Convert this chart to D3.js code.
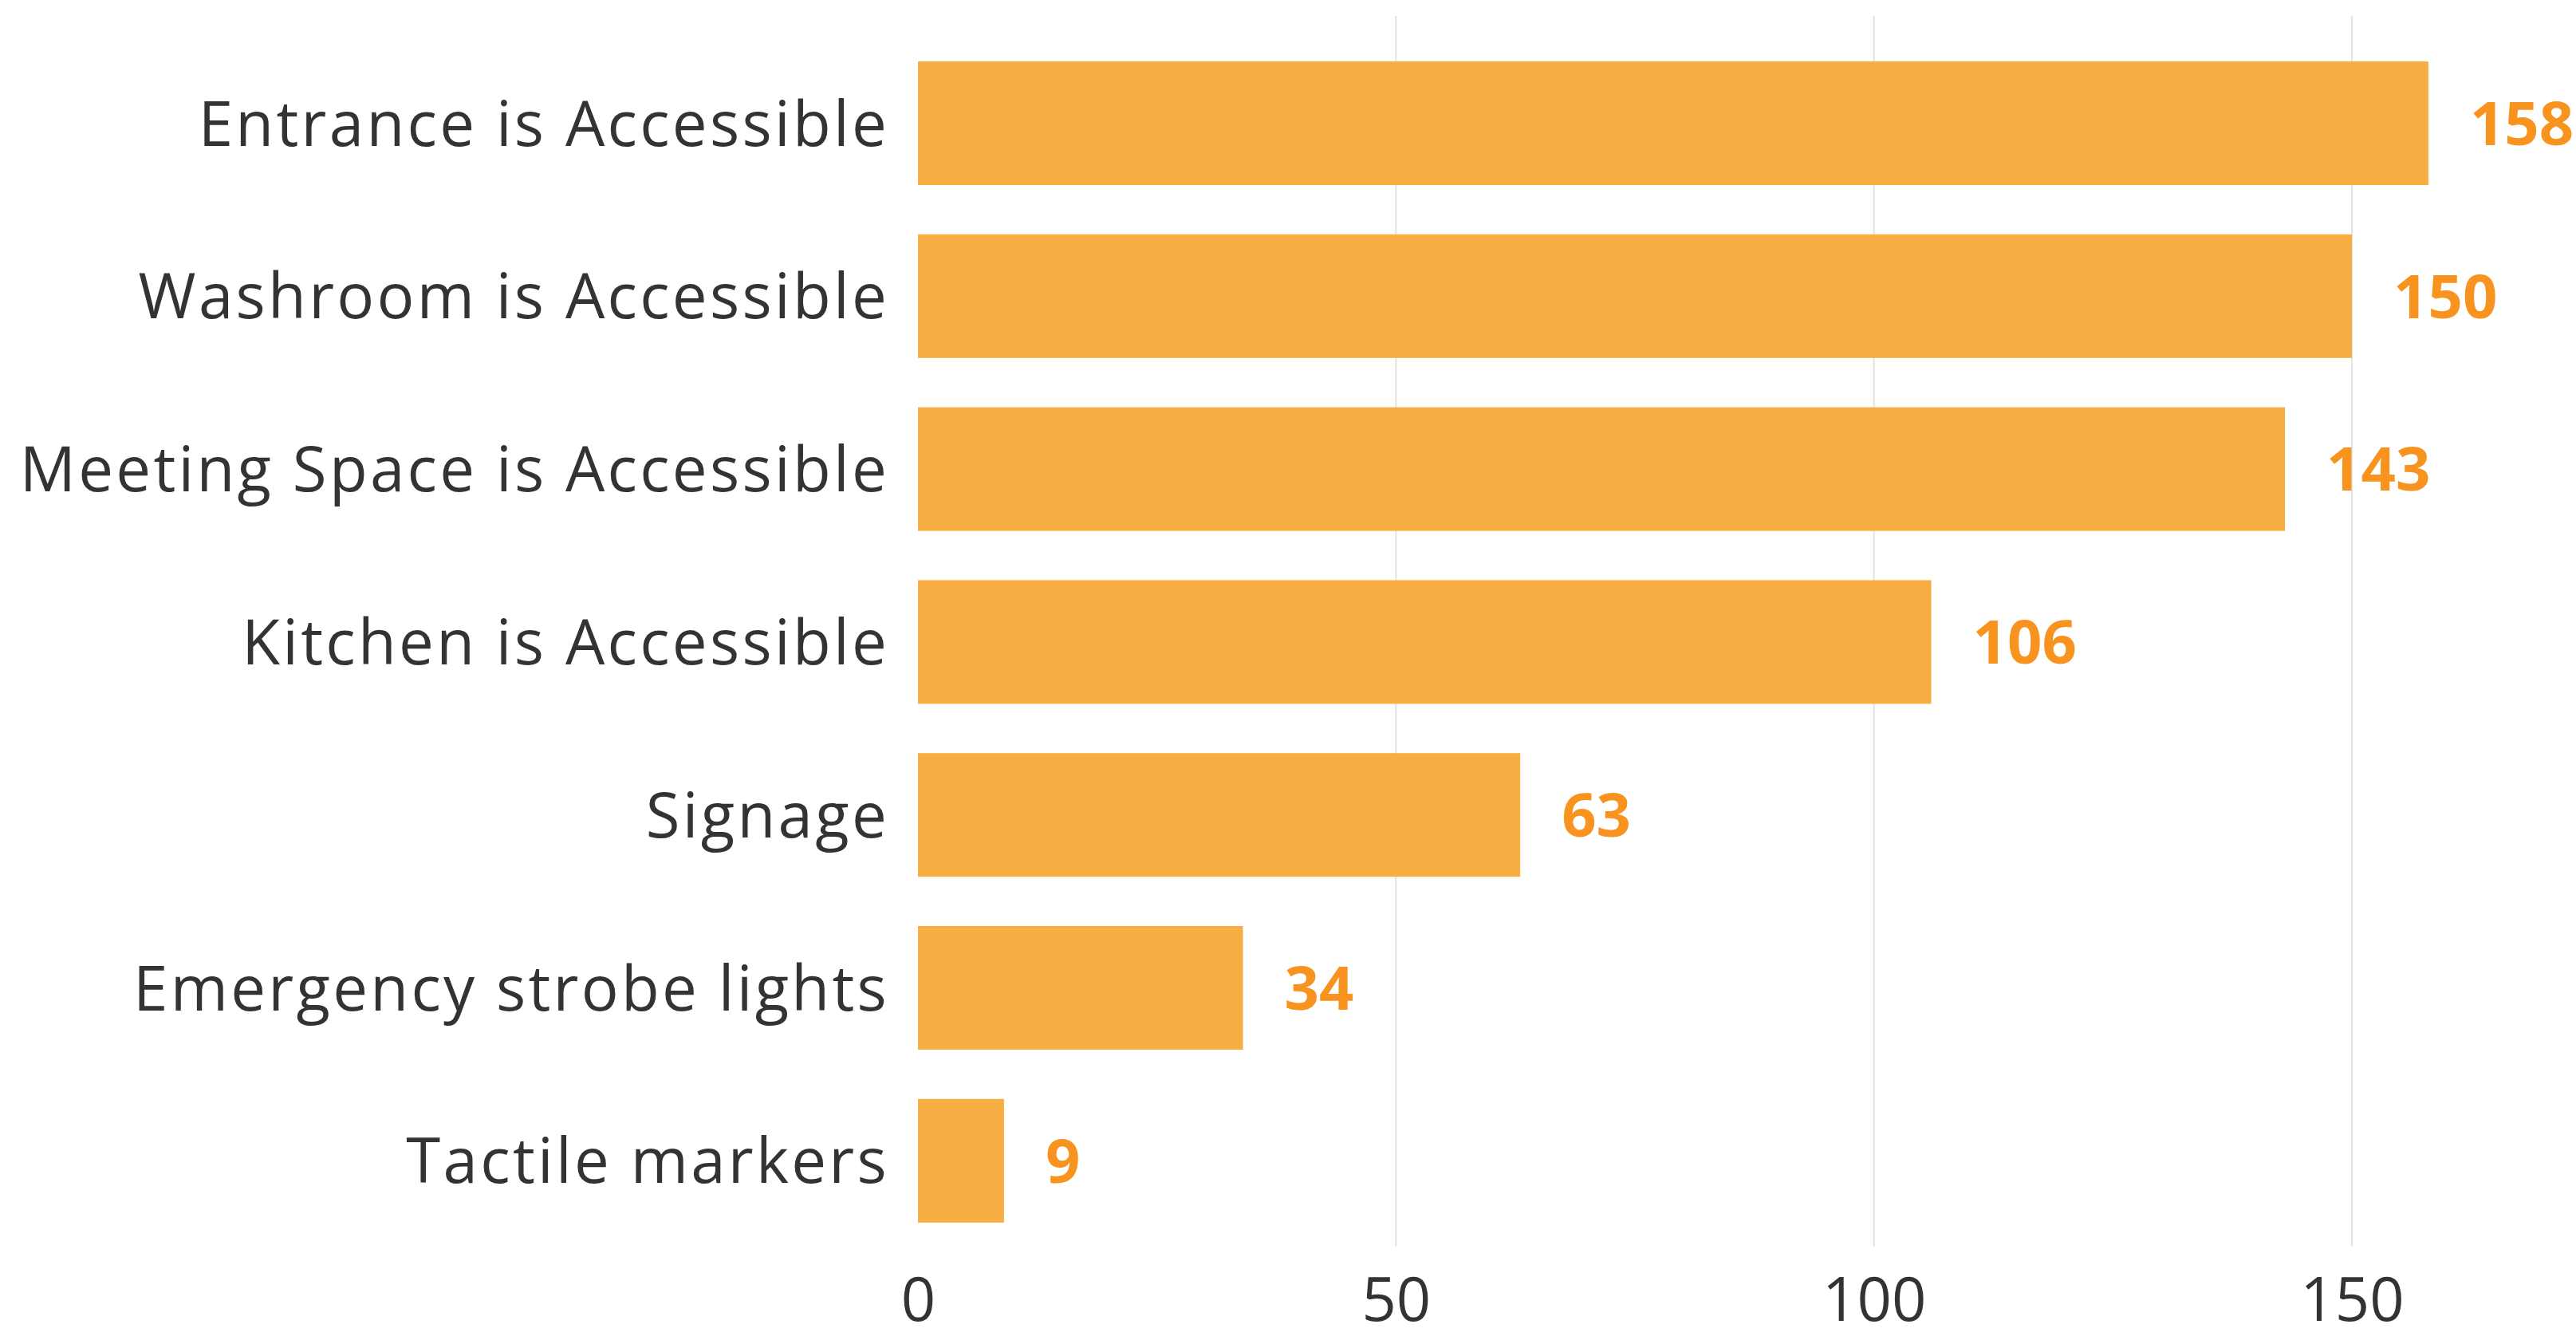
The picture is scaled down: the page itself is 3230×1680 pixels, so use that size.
<!DOCTYPE html>
<html>
<head>
<meta charset="utf-8">
<script src="https://cdn.jsdelivr.net/npm/d3@7"></script>
<style>
  html, body { margin: 0; padding: 0; background: #fff; }
  svg { display: block; }
</style>
</head>
<body>
<script>
const categories = [
  "Entrance is Accessible",
  "Washroom is Accessible",
  "Meeting Space is Accessible",
  "Kitchen is Accessible",
  "Signage",
  "Emergency strobe lights",
  "Tactile markers"
];
const values = [158, 150, 143, 106, 63, 34, 9];
const tickValues = [0, 50, 100, 150];

const W = 3230, H = 1680;
const FONT = "'Open Sans', 'Noto Sans', sans-serif";

const svg = d3.select("body").append("svg")
  .attr("width", W).attr("height", H);

const x = d3.scaleLinear().domain([0, 150]).range([1151, 2949]);
const step = 216.8;
const y = d3.scaleBand()
  .domain(categories)
  .range([77, 77 + 155 + 6 * step])
  .paddingInner(0.285)
  .paddingOuter(0);

// gridlines
svg.append("g")
  .selectAll("line")
  .data(tickValues.filter(d => d > 0))
  .join("line")
  .attr("x1", d => x(d)).attr("x2", d => x(d))
  .attr("y1", 20).attr("y2", 1563)
  .attr("stroke", "#e3e3e3")
  .attr("stroke-width", 2);

// bars
svg.append("g")
  .selectAll("rect")
  .data(categories)
  .join("rect")
  .attr("x", x(0))
  .attr("y", d => y(d))
  .attr("width", (d, i) => x(values[i]) - x(0))
  .attr("height", y.bandwidth())
  .attr("fill", "#F8AE42");

// value labels
svg.append("g")
  .selectAll("text")
  .data(categories)
  .join("text")
  .attr("x", (d, i) => x(values[i]) + 52)
  .attr("y", d => y(d) + y.bandwidth() / 2)
  .attr("dy", "0.36em")
  .attr("font-family", FONT)
  .attr("font-weight", 700)
  .attr("font-size", 76)
  .attr("fill", "#F7931E")
  .text((d, i) => values[i]);

// category axis
const yAxis = d3.axisLeft(y).tickSize(0).tickPadding(36);
const gy = svg.append("g")
  .attr("transform", `translate(${x(0)},0)`)
  .call(yAxis);
gy.select(".domain").remove();
gy.selectAll("text")
  .attr("font-family", FONT)
  .attr("font-size", 78)
  .attr("letter-spacing", "3.3px")
  .attr("fill", "#333")
  .attr("dy", "0.36em");

// x axis
const xAxis = d3.axisBottom(x).tickValues(tickValues).tickSize(0).tickPadding(0);
const gx = svg.append("g")
  .attr("transform", `translate(0,1656)`)
  .call(xAxis);
gx.select(".domain").remove();
gx.selectAll("text")
  .attr("font-family", FONT)
  .attr("font-size", 76)
  .attr("fill", "#333")
  .attr("dy", "0");
</script>
</body>
</html>
